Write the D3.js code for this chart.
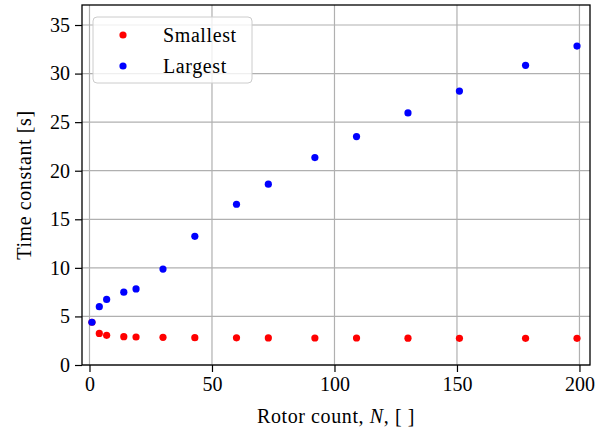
<!DOCTYPE html>
<html>
<head>
<meta charset="utf-8">
<script src="https://cdn.jsdelivr.net/npm/d3@7"></script>
<style>
  body { margin: 0; background: #fff; }
</style>
</head>
<body>
<div id="chart"></div>
<script>
// Rotor counts and time constants
const rotorCounts = [1, 4, 7, 14, 19, 30, 43, 60, 73, 92, 109, 130, 151, 178, 199];
const smallest = [4.4, 3.25, 3.05, 2.92, 2.88, 2.85, 2.81, 2.8, 2.79, 2.78, 2.78, 2.76, 2.75, 2.75, 2.75];
const largest = [4.4, 6.0, 6.75, 7.5, 7.83, 9.88, 13.25, 16.55, 18.62, 21.35, 23.52, 25.95, 28.2, 30.85, 32.83];
const xTicks = [0, 50, 100, 150, 200];
const yTicks = [0, 5, 10, 15, 20, 25, 30, 35];

const W = 610, H = 434;
const plotL = 82, plotR = 590, plotT = 5, plotB = 365;
const FONT = 'Liberation Serif';

const svg = d3.select('#chart')
  .append('svg')
  .attr('width', W)
  .attr('height', H)
  .attr('font-family', FONT);

// Scales
const x = d3.scaleLinear().domain([-3.06, 204.3]).range([plotL, plotR]);
const y = d3.scaleLinear().domain([0, 37.06]).range([plotB, plotT]);

// Grid
svg.append('g')
  .selectAll('line')
  .data(xTicks)
  .enter()
  .append('line')
  .attr('x1', d => x(d)).attr('x2', d => x(d))
  .attr('y1', plotT).attr('y2', plotB)
  .attr('stroke', '#b0b0b0')
  .attr('stroke-width', 1.2);

svg.append('g')
  .selectAll('line')
  .data(yTicks)
  .enter()
  .append('line')
  .attr('x1', plotL).attr('x2', plotR)
  .attr('y1', d => y(d)).attr('y2', d => y(d))
  .attr('stroke', '#b0b0b0')
  .attr('stroke-width', 1.2);

// Points
const small = rotorCounts.map((n, i) => ({ n, v: smallest[i] }));
const large = rotorCounts.map((n, i) => ({ n, v: largest[i] }));

svg.append('g')
  .selectAll('circle')
  .data(small)
  .enter()
  .append('circle')
  .attr('cx', d => x(d.n))
  .attr('cy', d => y(d.v))
  .attr('r', 3.6)
  .attr('fill', '#ff0000');

svg.append('g')
  .selectAll('circle')
  .data(large)
  .enter()
  .append('circle')
  .attr('cx', d => x(d.n))
  .attr('cy', d => y(d.v))
  .attr('r', 3.6)
  .attr('fill', '#0000ff');

// Axes
const xAxis = svg.append('g')
  .attr('transform', `translate(0,${plotB})`)
  .call(d3.axisBottom(x).tickValues(xTicks).tickSize(7).tickPadding(5));

const yAxis = svg.append('g')
  .attr('transform', `translate(${plotL},0)`)
  .call(d3.axisLeft(y).tickValues(yTicks).tickSize(7).tickPadding(5));

[xAxis, yAxis].forEach(a => {
  a.attr('font-family', FONT).attr('font-size', 20);
  a.select('.domain').remove();
  a.selectAll('line').attr('stroke', '#000').attr('stroke-width', 1.2);
  a.selectAll('text')
    .attr('font-family', FONT)
    .attr('font-size', 20)
    .attr('fill', '#000');
});

// Frame
svg.append('rect')
  .attr('x', plotL).attr('y', plotT)
  .attr('width', plotR - plotL).attr('height', plotB - plotT)
  .attr('fill', 'none')
  .attr('stroke', '#000')
  .attr('stroke-width', 1.3);

// Axis labels
const xl = svg.append('text')
  .attr('x', (plotL + plotR) / 2)
  .attr('y', 423)
  .attr('text-anchor', 'middle')
  .attr('font-family', FONT)
  .attr('font-size', 20)
  .attr('letter-spacing', 0.6);
xl.append('tspan').text('Rotor count, ');
xl.append('tspan').attr('font-style', 'italic').text('N');
xl.append('tspan').text(', [ ]');

svg.append('text')
  .attr('transform', `translate(31,${(plotT + plotB) / 2}) rotate(-90)`)
  .attr('text-anchor', 'middle')
  .attr('font-family', FONT)
  .attr('font-size', 20)
  .attr('letter-spacing', 0.6)
  .text('Time constant [s]');

// Legend
const legend = svg.append('g');
legend.append('rect')
  .attr('x', 93).attr('y', 17)
  .attr('width', 159).attr('height', 66)
  .attr('rx', 4)
  .attr('fill', '#fff')
  .attr('fill-opacity', 0.8)
  .attr('stroke', '#cccccc')
  .attr('stroke-width', 1);

const entries = [
  { label: 'Smallest', color: '#ff0000', cy: 35 },
  { label: 'Largest', color: '#0000ff', cy: 66 }
];
entries.forEach(e => {
  legend.append('circle')
    .attr('cx', 123).attr('cy', e.cy).attr('r', 3.6)
    .attr('fill', e.color);
  legend.append('text')
    .attr('x', 163).attr('y', e.cy + 7)
    .attr('font-family', FONT)
    .attr('font-size', 20)
    .attr('letter-spacing', 0.6)
    .text(e.label);
});
</script>
</body>
</html>
